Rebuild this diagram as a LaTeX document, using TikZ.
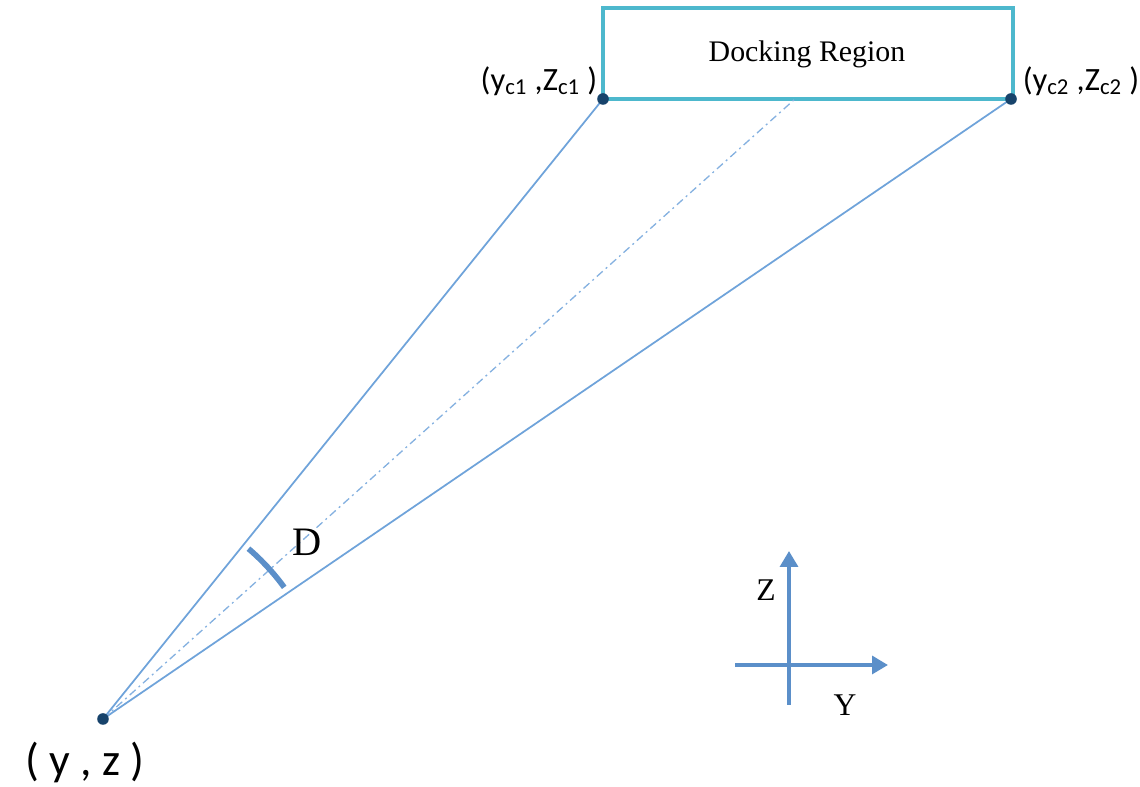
\documentclass[tikz,border=0pt]{standalone}
\usepackage{fontspec}
\setmainfont{Liberation Serif}
\newfontfamily\calfont{Carlito}
\usepackage{tikz}
\usetikzlibrary{arrows.meta,calc}
\usepackage{xcolor}
\definecolor{rayblue}{HTML}{6FA3DA}
\definecolor{boxteal}{HTML}{4DB8CD}
\definecolor{axisblue}{HTML}{5B8FC9}
\definecolor{dotnavy}{HTML}{17436B}
\tikzset{
  ray/.style={rayblue,line width=1pt},
  midray/.style={rayblue!85,line width=0.75pt,dash pattern=on 4.5pt off 2.3pt on 1.1pt off 2.3pt},
  axis/.style={axisblue,line width=2.8pt,-{Triangle[length=9pt,width=10pt]}},
  pin/.style={circle,fill=dotnavy,inner sep=0pt,minimum size=6.6pt}
}

\begin{document}
\begin{tikzpicture}[x=0.02cm,y=0.02cm]
\useasboundingbox (0,0) rectangle (1140,787);
% Docking region seen from the point (y,z); one unit is one pixel.
\coordinate (P) at (103,68);
\coordinate (C1) at (603,688);
\coordinate (C2) at (1011,688);
\coordinate (M) at (795,688);
\draw[boxteal,line width=2pt] (C1) rectangle (1013,779);
\node[font=\fontsize{17}{20}\selectfont] (dock) at (807,733) {Docking Region};
\draw[ray] (P)--(C1) (P)--(C2);
\draw[midray] (P)--(M);
\draw[axisblue,line width=3.2pt] ($(P)+(49.5:224)$) arc[start angle=49.5,end angle=36,radius=224];
\node[pin] (pP) at (P) {};
\node[pin] (pC1) at (C1) {};
\node[pin] (pC2) at (C2) {};
\node[font=\calfont\fontsize{18.5}{22}\selectfont] (lc1) at (539,706) {(y\textsubscript{c1} ,Z\textsubscript{c1} )};
\node[font=\calfont\fontsize{18.5}{22}\selectfont] (lc2) at (1081,706) {(y\textsubscript{c2} ,Z\textsubscript{c2} )};
\node[font=\calfont\fontsize{26}{28}\selectfont,inner sep=0pt] (lp) at (85,25) {( y , z )};
\node[font=\fontsize{23}{26}\selectfont] (ang) at (307,245) {D};
% axes
\coordinate (zb) at (789,82);
\coordinate (zt) at (789,236);
\coordinate (yl) at (735,122);
\coordinate (yr) at (888,122);
\draw[axis] (yl)--(yr);
\draw[axis] (zb)--(zt);
\node[font=\fontsize{18}{20}\selectfont] (zlab) at (766,197) {Z};
\node[font=\fontsize{18}{20}\selectfont] (ylab) at (845,82) {Y};
\end{tikzpicture}
\end{document}
